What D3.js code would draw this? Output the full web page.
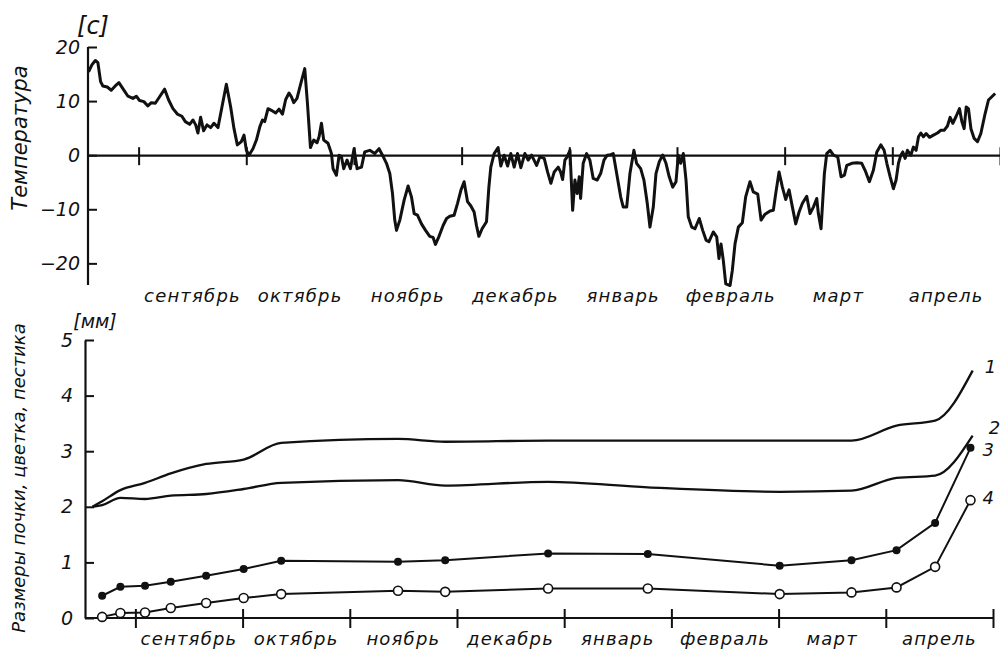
<!DOCTYPE html>
<html>
<head>
<meta charset="utf-8">
<script src="https://cdn.jsdelivr.net/npm/d3@7"></script>
<style>
  body { margin: 0; background: #fff; }
  text { font-family: "DejaVu Sans", sans-serif; font-style: italic; fill: #111; }
</style>
</head>
<body>
<svg id="chart" width="1000" height="650"></svg>
<script>
// months on the x axis (0 = 1 september)
const months = ['сентябрь', 'октябрь', 'ноябрь', 'декабрь', 'январь', 'февраль', 'март', 'апрель']
const monthTicks = [0, 1, 2, 3, 4, 5, 6, 7, 8]
const tempTicks = [-20, -10, 0, 10, 20]
const sizeTicks = [0, 1, 2, 3, 4, 5]

// daily temperature, position in months / degrees C
const tempT = [-0.465, -0.434, -0.402, -0.378, -0.353, -0.332, -0.291, -0.254, -0.217, -0.183, -0.146, -0.099, -0.053, -0.021,
  0.009, 0.049, 0.086, 0.118, 0.155, 0.195, 0.242, 0.279, 0.319, 0.360, 0.402, 0.434, 0.474, 0.505, 0.530, 0.551, 0.576, 0.604,
  0.635, 0.669, 0.700, 0.737, 0.774, 0.815, 0.855, 0.886, 0.917, 0.954, 0.979, 1.001, 1.025, 1.062, 1.094, 1.125, 1.150, 1.171,
  1.202, 1.233, 1.273, 1.304, 1.336, 1.366, 1.397, 1.419, 1.441, 1.471, 1.503, 1.543, 1.568, 1.596, 1.626, 1.657, 1.676, 1.698,
  1.719, 1.759, 1.791, 1.806, 1.837, 1.862, 1.884, 1.905, 1.936, 1.967, 2.001, 2.029, 2.070, 2.100, 2.147, 2.193, 2.233, 2.265,
  2.302, 2.333, 2.358, 2.379, 2.395, 2.426, 2.466, 2.503, 2.534, 2.559, 2.590, 2.627, 2.665, 2.704, 2.735, 2.757, 2.788, 2.828,
  2.860, 2.890, 2.930, 2.962, 2.993, 3.023, 3.055, 3.086, 3.116, 3.138, 3.160, 3.190, 3.231, 3.253, 3.271, 3.302, 3.339, 3.364,
  3.395, 3.427, 3.457, 3.488, 3.519, 3.550, 3.587, 3.618, 3.650, 3.696, 3.727, 3.767, 3.798, 3.829, 3.860, 3.897, 3.919, 3.938,
  3.959, 3.980, 4.006, 4.031, 4.052, 4.073, 4.092, 4.105, 4.129, 4.161, 4.191, 4.222, 4.259, 4.291, 4.322, 4.352, 4.384, 4.408,
  4.440, 4.477, 4.501, 4.533, 4.563, 4.600, 4.625, 4.663, 4.693, 4.724, 4.749, 4.780, 4.805, 4.836, 4.867, 4.898, 4.928, 4.960,
  4.991, 5.012, 5.034, 5.059, 5.084, 5.105, 5.137, 5.167, 5.207, 5.239, 5.270, 5.297, 5.337, 5.369, 5.390, 5.409, 5.430, 5.453,
  5.493, 5.514, 5.539, 5.570, 5.607, 5.638, 5.678, 5.709, 5.750, 5.781, 5.818, 5.864, 5.895, 5.917, 5.948, 5.979, 6.010, 6.041,
  6.072, 6.103, 6.134, 6.165, 6.205, 6.236, 6.267, 6.298, 6.313, 6.338, 6.369, 6.391, 6.422, 6.453, 6.493, 6.524, 6.555, 6.577,
  6.624, 6.670, 6.716, 6.747, 6.787, 6.824, 6.856, 6.893, 6.924, 6.949, 6.980, 7.010, 7.035, 7.057, 7.079, 7.097, 7.119, 7.140,
  7.172, 7.196, 7.221, 7.243, 7.265, 7.289, 7.314, 7.345, 7.382, 7.419, 7.451, 7.481, 7.512, 7.537, 7.562, 7.593, 7.624, 7.646,
  7.667, 7.686, 7.707, 7.730, 7.760, 7.791, 7.822, 7.862, 7.893, 7.924, 7.955]
const tempC = [15.4, 16.7, 17.5, 17.1, 13.6, 12.8, 12.6, 12.0, 12.8, 13.4, 12.3, 10.9, 10.5, 10.9,
  10.1, 9.9, 9.1, 9.7, 9.6, 10.8, 12.2, 10.2, 8.6, 7.6, 7.2, 6.2, 5.7, 6.5, 5.6, 4.1, 7.0, 4.5,
  5.6, 5.1, 5.9, 5.1, 8.9, 13.1, 8.9, 4.9, 1.9, 2.5, 3.7, 0.9, 0.0, 1.2, 2.8, 5.2, 6.5, 6.2,
  8.6, 8.3, 7.8, 8.5, 7.6, 10.3, 11.5, 10.8, 9.7, 10.5, 13.0, 16.0, 9.6, 1.4, 2.8, 2.3, 3.4, 5.9,
  2.8, 2.2, 0.3, -2.5, -3.7, 0, -0.3, -2.5, -0.9, -2.5, 1.2, -2.5, -2.2, 0.6, 0.9, 0.3, 1.2, 0,
  -1.5, -3.4, -7.1, -12, -13.9, -12, -8.3, -5.7, -7.7, -10.8, -11.1, -12.7, -13.9, -15, -15.2, -16.5, -15.1, -13.0,
  -11.7, -11.3, -11.1, -8.9, -6.5, -4.9, -8.6, -9.4, -10.5, -13.0, -15, -13.6, -12.3, -5.9, -2.2, 0.3, 1.4, -2.0,
  0, -2.0, 0.3, -2.2, 0.3, -2.3, 0.3, -0.9, 0, -1.9, -0.3, -0.6, -3.1, -5.2, -3.1, -2.2, -3.1, -4.5,
  -0.9, -0.3, 0.9, -10.2, -4.6, -7.1, -4.0, -8.0, -1.5, 0.3, -0.9, -4.3, -4.6, -3.4, -0.9, 0, 0.1, 0.3,
  -3.4, -7.7, -9.6, -9.6, -3.4, 0.9, -1.5, -2.5, -4.6, -8.9, -13.3, -9.6, -3.4, -1.2, 0, -1.5, -4.0, -5.9,
  -4.9, 0, -1.5, 0.3, -4.6, -11.4, -13.3, -13.6, -11.7, -13.9, -15.7, -16.0, -14.2, -15.1, -19.1, -16.4, -19.4, -23.8,
  -24.1, -21.3, -16.4, -13.3, -12.5, -7.7, -4.9, -6.8, -7.2, -12.0, -10.9, -10.3, -10.2, -7.1, -3.1, -5.9, -8.2, -6.4,
  -9.6, -12.7, -10.5, -8.9, -7.6, -10.8, -9.6, -8.0, -10.8, -13.6, -3.4, 0.3, 0.9, 0, -0.3, -4.0, -3.7, -1.9,
  -1.5, -1.4, -1.5, -2.8, -4.9, -2.8, 0.6, 1.9, 0.9, -1.5, -4.0, -6.2, -4.6, -1.5, 0, 0.6, -0.6, 0.9,
  0, 1.5, 0.9, 3.4, 4.1, 3.4, 4.0, 3.3, 3.7, 4.1, 4.6, 4.6, 5.4, 7.0, 5.9, 7.2, 8.6, 6.2,
  4.9, 8.9, 8.6, 4.9, 3.1, 2.5, 4.0, 7.7, 10.2, 10.8, 11.4]

// sizes of bud (1), flower (2), ... (3) and pistil (4), mm
const sampleT = [-0.31, -0.14, 0.09, 0.33, 0.66, 1.01, 1.36, 2.45, 2.89, 3.85, 4.78, 6.01, 6.68, 7.1, 7.46, 7.79]
const curveT = [-0.40, -0.31, -0.14, 0.09, 0.33, 0.66, 1.01, 1.36, 2.45, 2.89, 3.85, 4.78, 6.01, 6.68, 7.1, 7.46, 7.81]
const size1 = [2.0, 2.1, 2.3, 2.43, 2.6, 2.77, 2.85, 3.15, 3.22, 3.17, 3.19, 3.19, 3.19, 3.19, 3.46, 3.55, 4.45]
const size2 = [2.0, 2.03, 2.16, 2.14, 2.2, 2.23, 2.32, 2.43, 2.48, 2.38, 2.45, 2.35, 2.27, 2.29, 2.52, 2.56, 3.28]
const size3 = [0.4, 0.56, 0.58, 0.65, 0.76, 0.88, 1.03, 1.01, 1.04, 1.16, 1.15, 0.94, 1.04, 1.22, 1.71, 3.06]
const size4 = [0.02, 0.09, 0.1, 0.18, 0.27, 0.36, 0.43, 0.49, 0.47, 0.53, 0.53, 0.43, 0.46, 0.55, 0.92, 2.12]

const svg = d3.select('#chart')

const xTop = d3.scaleLinear().domain([-0.47, 8]).range([88, 1000])
const yTop = d3.scaleLinear().domain([-24, 20]).range([285, 47])
const xBot = d3.scaleLinear().domain([-0.47, 8]).range([85, 993])
const yBot = d3.scaleLinear().domain([0, 5]).range([618, 340])

// ---------- temperature panel
const gTop = svg.append('g')

const yAxisTop = gTop.append('g')
  .attr('transform', `translate(${xTop.range()[0]},0)`)
  .call(d3.axisLeft(yTop).tickValues(tempTicks).tickSize(-9).tickPadding(8).tickSizeOuter(0))
yAxisTop.select('.domain').attr('d', `M0,${yTop(20)}V${yTop.range()[0]}`)

const xAxisTop = gTop.append('g')
  .attr('transform', `translate(0,${yTop(0)})`)
  .call(d3.axisBottom(xTop).tickValues(monthTicks).tickFormat('').tickSizeOuter(0))
xAxisTop.selectAll('.tick line').attr('y1', -8).attr('y2', 10)

gTop.append('path')
  .datum(d3.zip(tempT, tempC))
  .attr('fill', 'none')
  .attr('stroke', '#111')
  .attr('stroke-width', 3)
  .attr('stroke-linejoin', 'round')
  .attr('d', d3.line().x(d => xTop(d[0])).y(d => yTop(d[1])))

gTop.selectAll('.mlab')
  .data(months)
  .enter()
  .append('text')
  .attr('class', 'mlab')
  .attr('x', (d, i) => xTop(i + 0.5))
  .attr('y', 302)
  .attr('text-anchor', 'middle')
  .attr('font-size', 18)
  .attr('letter-spacing', 1.2)
  .text(d => d)

gTop.append('text').text('[c]').attr('x', 93).attr('y', 34).attr('text-anchor', 'middle').attr('font-size', 24)

gTop.append('text')
  .text('Температура')
  .attr('transform', 'translate(27,138) rotate(-90)')
  .attr('text-anchor', 'middle')
  .attr('font-size', 21)

// ---------- size panel
const gBot = svg.append('g')

const yAxisBot = gBot.append('g')
  .attr('transform', `translate(${xBot.range()[0]},0)`)
  .call(d3.axisLeft(yBot).tickValues(sizeTicks).tickFormat(d3.format('d')).tickSize(-9).tickPadding(12).tickSizeOuter(0))

const xAxisBot = gBot.append('g')
  .attr('transform', `translate(0,${yBot(0)})`)
  .call(d3.axisBottom(xBot).tickValues(monthTicks).tickFormat('').tickSizeOuter(0))
xAxisBot.selectAll('.tick line').attr('y1', -9).attr('y2', 10)
xAxisBot.select('.domain').attr('d', `M${xBot.range()[0]},0H${xBot.range()[1]}`)

const lineBot = d3.line().x(d => xBot(d[0])).y(d => yBot(d[1]))

gBot.append('path').datum(d3.zip(curveT, size1))
  .attr('fill', 'none').attr('stroke', '#111').attr('stroke-width', 2.3)
  .attr('d', lineBot.curve(d3.curveMonotoneX))
gBot.append('path').datum(d3.zip(curveT, size2))
  .attr('fill', 'none').attr('stroke', '#111').attr('stroke-width', 2.3)
  .attr('d', lineBot.curve(d3.curveMonotoneX))

lineBot.curve(d3.curveLinear)
gBot.append('path').datum(d3.zip(sampleT, size3))
  .attr('fill', 'none').attr('stroke', '#111').attr('stroke-width', 2)
  .attr('d', lineBot)
gBot.append('path').datum(d3.zip(sampleT, size4))
  .attr('fill', 'none').attr('stroke', '#111').attr('stroke-width', 2)
  .attr('d', lineBot)

gBot.selectAll('.dot3')
  .data(d3.zip(sampleT, size3))
  .enter()
  .append('circle')
  .attr('class', 'dot3')
  .attr('cx', d => xBot(d[0]))
  .attr('cy', d => yBot(d[1]))
  .attr('r', 4)
  .attr('fill', '#111')

gBot.selectAll('.dot4')
  .data(d3.zip(sampleT, size4))
  .enter()
  .append('circle')
  .attr('class', 'dot4')
  .attr('cx', d => xBot(d[0]))
  .attr('cy', d => yBot(d[1]))
  .attr('r', 4.5)
  .attr('fill', '#fff')
  .attr('stroke', '#111')
  .attr('stroke-width', 1.6)

// series numbers at the right ends
const ends = [[curveT, size1, '1', 12, 2], [curveT, size2, '2', 16, -2], [sampleT, size3, '3', 12, 8], [sampleT, size4, '4', 12, 4]]
ends.forEach(e => {
  gBot.append('text')
    .text(e[2])
    .attr('x', xBot(e[0][e[0].length - 1]) + e[3])
    .attr('y', yBot(e[1][e[1].length - 1]) + e[4])
    .attr('font-size', 18)
})

gBot.selectAll('.mlab')
  .data(months)
  .enter()
  .append('text')
  .attr('class', 'mlab')
  .attr('x', (d, i) => xBot(i + 0.5))
  .attr('y', 645)
  .attr('text-anchor', 'middle')
  .attr('font-size', 18)
  .attr('letter-spacing', 1.2)
  .text(d => d)

gBot.append('text').text('[мм]').attr('x', 95).attr('y', 328).attr('text-anchor', 'middle').attr('font-size', 19)

gBot.append('text')
  .text('Размеры почки, цветка, пестика')
  .attr('transform', 'translate(25,478) rotate(-90)')
  .attr('text-anchor', 'middle')
  .attr('font-size', 18)

// axis styling
svg.selectAll('.domain').attr('stroke', '#111').attr('stroke-width', 2.2)
svg.selectAll('.tick line').attr('stroke', '#111').attr('stroke-width', 2)
svg.selectAll('.tick text')
  .attr('font-size', 19)
  .attr('font-family', '"DejaVu Sans", sans-serif')
  .attr('font-style', 'italic')
  .attr('fill', '#111')
</script>
</body>
</html>
